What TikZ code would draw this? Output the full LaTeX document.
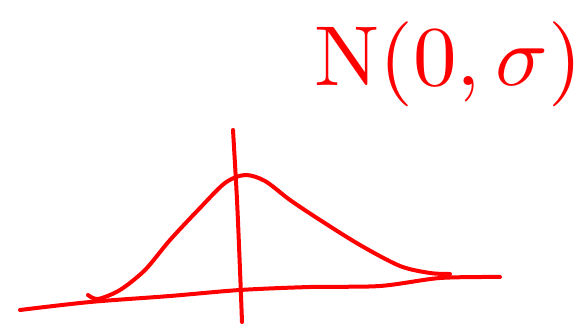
\documentclass[tikz,border=0pt]{standalone}
\usepackage{graphicx}
\begin{document}
\begin{tikzpicture}[x=1pt,y=-1pt,line width=4pt,line cap=round,line join=round]
    \useasboundingbox (0,0) rectangle (586,328);
    % axes
    \draw[red] plot[smooth] coordinates {(20,310) (90,302) (170,296) (240,290) (310,287) (380,286) (440,278) (500,277)};
    \draw[red] plot[smooth] coordinates {(233,130) (237,200) (240,270) (242,322)};
    % bell curve
    \draw[red] plot[smooth] coordinates {(88,295) (98,299) (120,290) (145,270) (170,240) (200,208) (225,183) (245,175) (265,181) (290,200) (320,220) (360,245) (400,266) (430,273) (450,274)};
    \node[red] (dist) at (448,64) {\scalebox{8.7}[8.5]{$\mathrm{N}(0,\sigma)$}};
\end{tikzpicture}
\end{document}
